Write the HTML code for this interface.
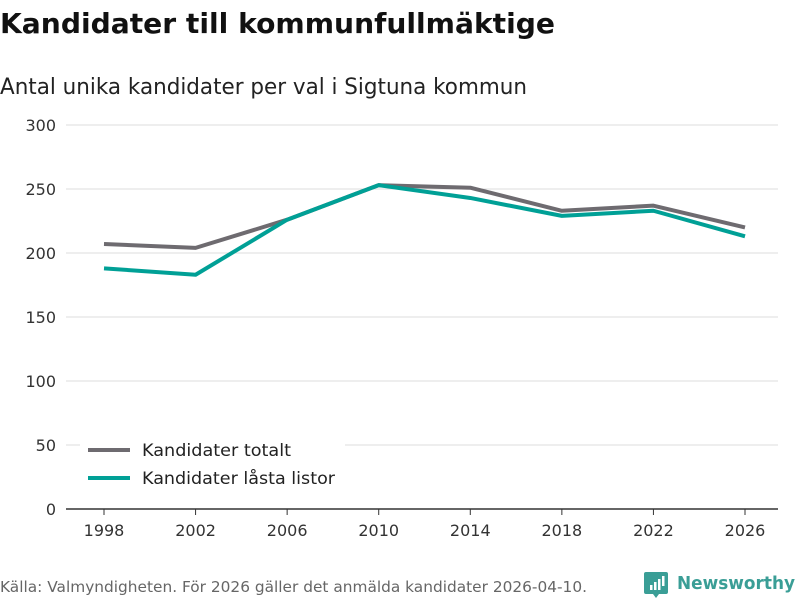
<!DOCTYPE html>
<html><head><meta charset="utf-8"><style>
body{margin:0;background:#fff;font-family:"DejaVu Sans","Liberation Sans",sans-serif;}
#wrap{position:relative;width:800px;height:600px;overflow:hidden;}
</style></head><body>
<div id="wrap">
<svg id="svg" width="800" height="600" xmlns="http://www.w3.org/2000/svg">
<text x="0" y="33" font-size="28" font-weight="bold" fill="#111" textLength="555" lengthAdjust="spacingAndGlyphs">Kandidater till kommunfullmäktige</text>
<text x="0" y="94" font-size="22" fill="#222" textLength="527" lengthAdjust="spacingAndGlyphs">Antal unika kandidater per val i Sigtuna kommun</text>
<g id="grid"></g><g id="lines"></g>
<g>
<rect x="80" y="436" width="265" height="60" fill="#fff"/>
<line x1="88" y1="450" x2="130" y2="450" stroke="#6e6b70" stroke-width="4"/>
<text x="142" y="456" font-size="17" fill="#222" textLength="149" lengthAdjust="spacingAndGlyphs">Kandidater totalt</text>
<line x1="88" y1="478" x2="130" y2="478" stroke="#00a096" stroke-width="4"/>
<text x="142" y="484" font-size="17" fill="#222" textLength="193" lengthAdjust="spacingAndGlyphs">Kandidater låsta listor</text>
</g>
<text x="0" y="592" font-size="15" fill="#666" textLength="587" lengthAdjust="spacingAndGlyphs">Källa: Valmyndigheten. För 2026 gäller det anmälda kandidater 2026-04-10.</text>
<g>
<path d="M646 572 h20 a2 2 0 0 1 2 2 v18 a2 2 0 0 1 -2 2 h-7 l-3 4 l-3 -4 h-7 a2 2 0 0 1 -2 -2 v-18 a2 2 0 0 1 2 -2z" fill="#3a9e96"/>
<rect x="650" y="585" width="2.5" height="5" fill="#fff"/><rect x="654" y="582" width="2.5" height="8" fill="#fff"/><rect x="658" y="579" width="2.5" height="11" fill="#fff"/><rect x="662" y="576" width="2.5" height="10" fill="#fff"/>
<text x="677" y="589" font-size="18" font-weight="bold" fill="#3a9e96" textLength="118" lengthAdjust="spacingAndGlyphs">Newsworthy</text>
</g>
</svg>
</div>
<script>
const years=[1998,2002,2006,2010,2014,2018,2022,2026];
const totalt=[207,204,226,253,251,233,237,220];
const lasta=[188,183,226,253,243,229,233,213];
const yTicks=[0,50,100,150,200,250,300];
const NS="http://www.w3.org/2000/svg";
const x=y=>104+(y-1998)/(2026-1998)*(745-104);
const yv=v=>509-v*1.28;
const grid=document.getElementById('grid'),lines=document.getElementById('lines');
function mk(t,a,p){const e=document.createElementNS(NS,t);for(const k in a)e.setAttribute(k,a[k]);p.appendChild(e);return e;}
yTicks.forEach(t=>{
 if(t>0){const l=mk('line',{x1:66,x2:778,y1:yv(t),y2:yv(t),stroke:'#ddd','stroke-width':1},grid);
 
 }
 const tx=mk('text',{x:56,y:yv(t)+6,'font-size':16,'text-anchor':'end',fill:'#333'},grid);tx.textContent=t;
 
 
});
const ax=mk('line',{x1:66,x2:778,y1:509,y2:509,stroke:'#333','stroke-width':1.5},grid);


years.forEach(y=>{
 mk('line',{x1:x(y),x2:x(y),y1:509,y2:515,stroke:'#333'},grid);
 const tx=mk('text',{x:x(y),y:536,'font-size':16,'text-anchor':'middle',fill:'#333'},grid);tx.textContent=y;
 
 
});
function series(d,c,n){const p=mk('polyline',{points:d.map((v,i)=>x(years[i])+','+yv(v)).join(' '),fill:'none',stroke:c,'stroke-width':4,'stroke-linejoin':'round'},lines);
 
 }
series(totalt,'#6e6b70','line-totalt');
series(lasta,'#00a096','line-lasta');
</script>
</body></html>
